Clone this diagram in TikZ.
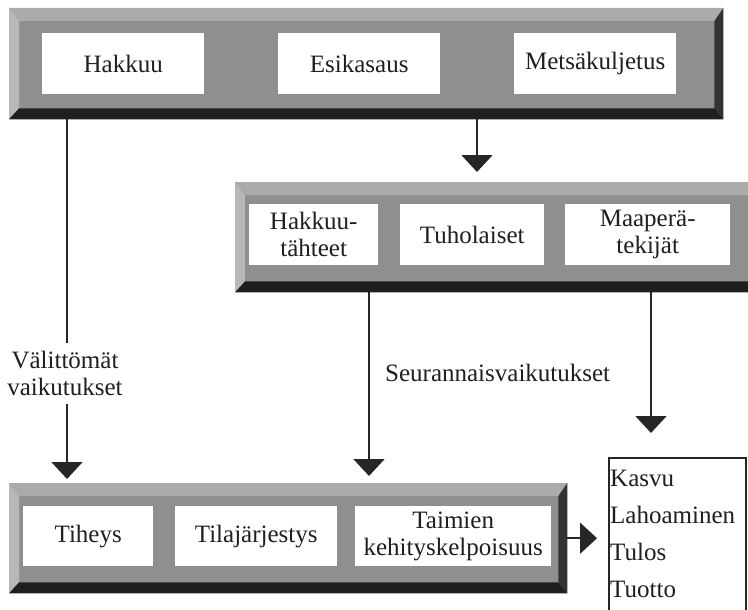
\documentclass[tikz,border=0pt]{standalone}
\usepackage{fontspec}
\setmainfont{Liberation Serif}
\usetikzlibrary{arrows.meta,calc}

\newcommand\bevelbar[1]{%
  \fill[bevleft] (#1.north west) -- ([shift={(10,13)}]#1.north west) -- ([shift={(10,-11)}]#1.south west) -- (#1.south west) -- cycle;
  \fill[bevtop] (#1.north west) -- (#1.north east) -- ([shift={(-9,13)}]#1.north east) -- ([shift={(10,13)}]#1.north west) -- cycle;
  \fill[bevright] (#1.north east) -- (#1.south east) -- ([shift={(-9,-11)}]#1.south east) -- ([shift={(-9,13)}]#1.north east) -- cycle;
  \fill[bevbottom] (#1.south west) -- (#1.south east) -- ([shift={(-9,-11)}]#1.south east) -- ([shift={(10,-11)}]#1.south west) -- cycle;
}

\begin{document}
\begin{tikzpicture}[x=1pt,y=-1pt,
  bar/.style={rectangle, fill=black!44, draw=none, inner sep=0pt, anchor=north west},
  bevleft/.style={fill=black!28},
  bevtop/.style={fill=black!33},
  bevright/.style={fill=black!80},
  bevbottom/.style={fill=black!88},
  wbox/.style={rectangle, fill=white, draw=none, inner sep=0pt, anchor=north west,
    align=center, font=\fontsize{25}{27}\selectfont, text=black!88},
  lbl/.style={font=\fontsize{25}{27}\selectfont, text=black!88, align=center},
  conn/.style={line width=1.8pt, draw=black!85},
  arr/.style={conn, -{Triangle[width=31pt,length=17pt]}},
  resbox/.style={rectangle, draw=black!85, line width=1.5pt, fill=white, anchor=north west, inner sep=0pt}
]
\useasboundingbox (0,0) rectangle (748,610);
\clip (0,0) rectangle (748,610);

% bars
\node[bar, minimum width=714pt, minimum height=111pt] (topbar) at (9,8) {};
\bevelbar{topbar}
\node[bar, minimum width=530pt, minimum height=110pt] (midbar) at (235,182) {};
\bevelbar{midbar}
\node[bar, minimum width=558pt, minimum height=110pt] (botbar) at (9,483) {};
\bevelbar{botbar}

% top boxes
\node[wbox, minimum width=162pt, minimum height=61pt] (hakkuu) at (42,33) {Hakkuu};
\node[wbox, minimum width=162pt, minimum height=61pt] (esikasaus) at (278,33) {Esikasaus};
\node[wbox, minimum width=162pt, minimum height=61pt] (metsa) at (514,33) {Metsäkuljetus};

% middle boxes
\node[wbox, minimum width=129pt, minimum height=61pt] (tahteet) at (249,204) {Hakkuu-\\tähteet};
\node[wbox, minimum width=144pt, minimum height=61pt] (tuholaiset) at (400,204) {Tuholaiset};
\node[wbox, minimum width=165pt, minimum height=61pt] (maapera) at (565,204) {Maaperä-\\tekijät};

% bottom boxes
\node[wbox, minimum width=130pt, minimum height=60pt] (tiheys) at (23,506) {Tiheys};
\node[wbox, minimum width=162pt, minimum height=60pt] (tila) at (175,506) {Tilajärjestys};
\node[wbox, minimum width=196pt, minimum height=60pt] (taimien) at (355,506) {Taimien\\kehityskelpoisuus};

% result box
\node[resbox, minimum width=137pt, minimum height=200pt] (res) at (608,457) {};
\node[anchor=north west, inner sep=0pt, align=left, font=\fontsize{25}{37}\selectfont, text=black!88]
  (restext) at (610,469.5) {Kasvu\\Lahoaminen\\Tulos\\Tuotto};

% labels
\node[lbl, anchor=north, inner xsep=0pt, inner ysep=8pt] (lblA) at (65,343) {Välittömät\\vaikutukset};
\node[lbl, anchor=base west, inner sep=0pt] (lblB) at (385,381) {Seurannaisvaikutukset};

% connector x positions
\coordinate (xA) at (67,0);
\coordinate (xB) at (477,0);
\coordinate (xC) at (369,0);
\coordinate (xD) at (651,0);

% connectors
\draw[conn] (topbar.south -| xA) -- (lblA.north -| xA);
\draw[arr, shorten >=4pt] (lblA.south -| xA) -- (botbar.north -| xA);
\draw[arr, shorten >=10pt] (topbar.south -| xB) -- (midbar.north -| xB);
\draw[arr, shorten >=7pt] (midbar.south -| xC) -- (botbar.north -| xC);
\draw[arr, shorten >=24pt] (midbar.south -| xD) -- (res.north -| xD);
\draw[arr, shorten >=11pt] (botbar.east) -- (res.west |- botbar.east);
\end{tikzpicture}
\end{document}
